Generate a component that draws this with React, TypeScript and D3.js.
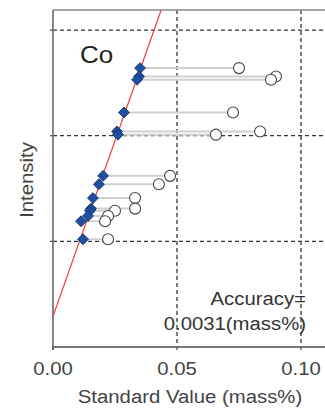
import React from "react";
import * as d3 from "d3";

// Calibration samples: standard value (mass%), measured intensity, and the
// apparent value before correction (mass%).
const standardValues = [0.0351, 0.0347, 0.0339, 0.0286, 0.0258, 0.0262, 0.0202, 0.0185, 0.0161, 0.0153, 0.0149, 0.0141, 0.0113, 0.0121];
const intensities = [2.64, 2.56, 2.53, 2.22, 2.04, 2.01, 1.62, 1.54, 1.41, 1.31, 1.29, 1.24, 1.19, 1.02];
const uncorrectedValues = [0.075, 0.0899, 0.0879, 0.0726, 0.0835, 0.0657, 0.0472, 0.0427, 0.0331, 0.0331, 0.025, 0.0222, 0.021, 0.0222];

const xTicks = [0, 0.05, 0.1];
const yGridValues = [1, 2, 3];
const calibIntercept = 0.29;
const calibSlope = 66.5;

const elementLabel = "Co";
const accuracyLines = ["Accuracy=", "0.0031(mass%)"];
const xTitle = "Standard Value (mass%)";
const yTitle = "Intensity";

const W = 325;
const H = 409;
const left = 53;
const top = 10;
const bottom = 347;
const FONT = "'Liberation Sans', Arial, sans-serif";
const SX = 1.13;

export default function App() {
  const x = d3.scaleLinear().domain([0, 0.11]).range([left, left + 0.11 * 2480]);
  const y = d3.scaleLinear().domain([0, 3.19]).range([bottom, top]);

  const xEnd = (3.19 - calibIntercept) / calibSlope;
  const calib = d3
    .line<number>()
    .x((c) => x(c))
    .y((c) => y(calibIntercept + calibSlope * c))([0, xEnd]);

  const diamond = d3.symbol().type(d3.symbolSquare).size(60)();
  const idx = d3.range(standardValues.length);
  const right = x(0.11);

  return (
    <svg
      width={W}
      height={H}
      style={{ position: "absolute", left: 0, top: 0, background: "#fff" }}
      fontFamily={FONT}
    >
      <defs>
        <clipPath id="plot">
          <rect x={left} y={top} width={right - left} height={bottom - top} />
        </clipPath>
      </defs>

      {/* dashed grid */}
      {yGridValues.map((v) => (
        <line key={"gy" + v} x1={left} x2={right} y1={y(v)} y2={y(v)}
          stroke="#333" strokeWidth={1.3} strokeDasharray="4,3" />
      ))}
      {xTicks.slice(1).map((v) => (
        <line key={"gx" + v} x1={x(v)} x2={x(v)} y1={top} y2={bottom}
          stroke="#333" strokeWidth={1.3} strokeDasharray="4,3" />
      ))}

      {/* frame */}
      <line x1={left} x2={right} y1={top} y2={top} stroke="#888" strokeWidth={1.6} />
      <line x1={left} x2={left} y1={top} y2={bottom + 3} stroke="#777" strokeWidth={1.8} />
      <line x1={left - 1} x2={right} y1={bottom} y2={bottom} stroke="#777" strokeWidth={1.8} />
      {yGridValues.map((v) => (
        <line key={"ty" + v} x1={left - 3} x2={left} y1={y(v)} y2={y(v)} stroke="#555" strokeWidth={1.3} />
      ))}
      {xTicks.map((v) => (
        <line key={"tx" + v} x1={x(v)} x2={x(v)} y1={bottom} y2={bottom + 3} stroke="#555" strokeWidth={1.3} />
      ))}

      <g clipPath="url(#plot)">
        {/* connectors */}
        {idx.map((i) => (
          <line key={"c" + i} x1={x(standardValues[i])} x2={x(uncorrectedValues[i])}
            y1={y(intensities[i])} y2={y(intensities[i])} stroke="#cfcfcf" strokeWidth={2} />
        ))}
        {/* calibration line */}
        <path d={calib || ""} fill="none" stroke="#f03a3a" strokeWidth={1.2} />
        {/* uncorrected values */}
        {idx.map((i) => (
          <circle key={"o" + i} cx={x(uncorrectedValues[i])} cy={y(intensities[i])} r={5.5}
            fill="#fff" stroke="#444" strokeWidth={1.1} />
        ))}
        {/* standard values */}
        {idx.map((i) => (
          <path key={"d" + i} d={diamond || ""}
            transform={`translate(${x(standardValues[i])},${y(intensities[i])}) rotate(45)`}
            fill="#1f4fa0" stroke="#14306a" strokeWidth={0.8} />
        ))}
      </g>

      {/* labels */}
      <text transform={`translate(80,63) scale(${SX},1)`} fontSize={23} fill="#222">{elementLabel}</text>
      {accuracyLines.map((t, i) => (
        <text key={t} transform={`translate(306,${305 + i * 25}) scale(${SX},1)`} fontSize={18}
          textAnchor="end" fill="#333">{t}</text>
      ))}
      {xTicks.map((v) => (
        <text key={"l" + v} transform={`translate(${x(v)},375) scale(${SX},1)`} fontSize={18}
          textAnchor="middle" fill="#444">{d3.format(".2f")(v)}</text>
      ))}
      <text transform={`translate(190,403) scale(${SX},1)`} fontSize={18} textAnchor="middle" fill="#444">{xTitle}</text>
      <text transform={`translate(33,180) rotate(-90) scale(${SX},1)`} fontSize={18} textAnchor="middle" fill="#444">{yTitle}</text>
    </svg>
  );
}
